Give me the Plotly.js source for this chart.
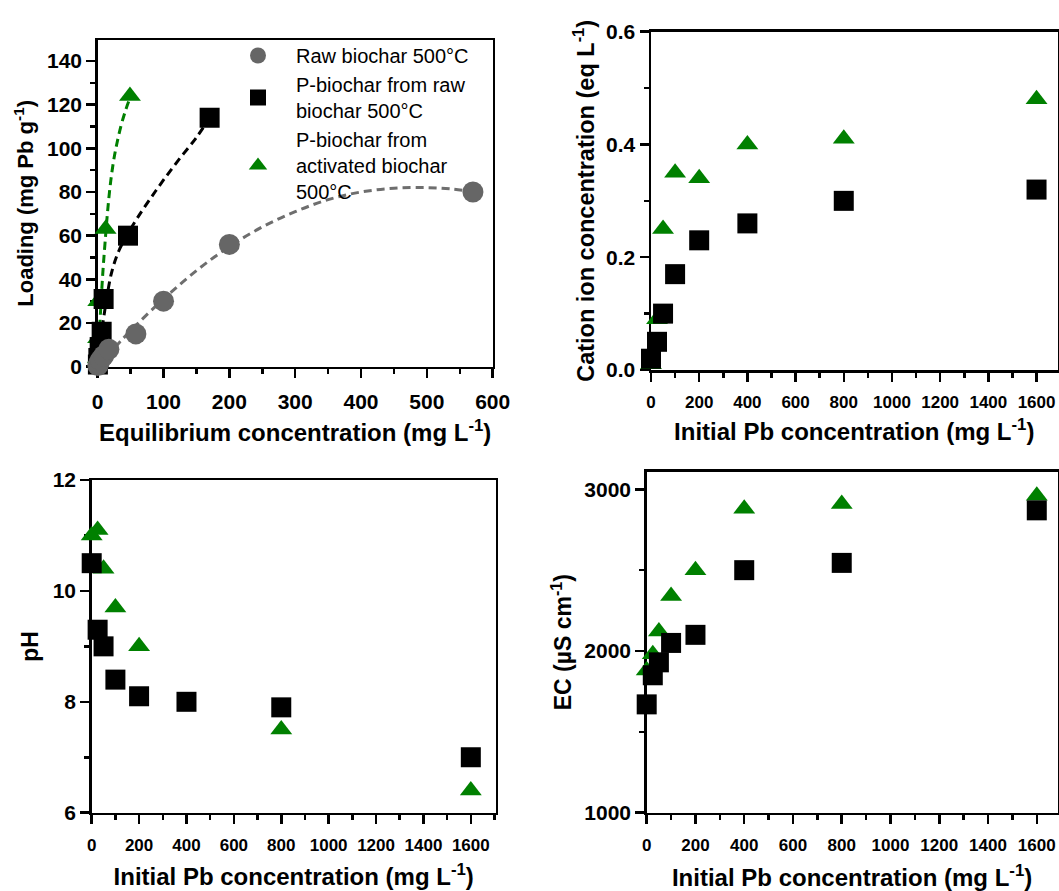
<!DOCTYPE html>
<html>
<head>
<meta charset="utf-8">
<script src="https://cdn.plot.ly/plotly-3.0.1.min.js"></script>
<style>html,body{margin:0;padding:0;background:#fff;}#chart{width:1059px;height:891px;}</style>
</head>
<body>
<div id="chart"></div>
<script>
// ---------- Panel A: loading vs equilibrium concentration ----------
const rawEqConc      = [0.3, 1.5, 4, 9, 17, 58, 100, 200, 570];
const rawLoading     = [0.5, 1.5, 3, 5, 8, 15, 30, 56, 80];
const pRawEqConc     = [0.3, 1, 3, 6, 9, 46, 170];
const pRawLoading    = [1, 4, 9, 16, 31, 60, 114];
const pActEqConc     = [0.2, 0.5, 0.8, 12, 49];
const pActLoading    = [4, 13, 30, 63, 124];
// fitted (dashed) curves
const rawFitX  = [0, 25, 50, 100, 150, 200, 250, 300, 350, 400, 450, 500, 540, 570];
const rawFitY  = [0, 8.5, 16.5, 31, 44, 55, 64, 71, 76.5, 80, 81.7, 82, 81.3, 80];
const pRawFitX = [0, 3, 7, 13, 21, 32, 46, 60, 80, 100, 125, 150, 170];
const pRawFitY = [0, 8, 18, 30, 43, 53, 61, 68, 77, 85.5, 95.5, 105, 114];
const pActFitX = [0, 1, 2.5, 5, 8, 12, 15, 19, 24, 29, 36, 43, 49];
const pActFitY = [0, 6, 15, 29, 44, 60, 71, 83, 94, 102, 111, 118, 123];

// ---------- Panels B-D: vs initial Pb concentration ----------
const initialPb     = [0, 25, 50, 100, 200, 400, 800, 1600];
const cationPRaw    = [0.02, 0.05, 0.10, 0.17, 0.23, 0.26, 0.30, 0.32];
const cationPAct    = [0.01, 0.09, 0.25, 0.35, 0.34, 0.40, 0.41, 0.48];
const phPRaw        = [10.5, 9.3, 9.0, 8.4, 8.1, 8.0, 7.9, 7.0];
const phActPb       = [0, 25, 50, 100, 200, 800, 1600];
const phPAct        = [11.0, 11.1, 10.4, 9.7, 9.0, 7.5, 6.4];
const ecPRaw        = [1670, 1850, 1930, 2050, 2100, 2500, 2545, 2870];
const ecPAct        = [1880, 1980, 2120, 2340, 2500, 2880, 2910, 2960];

const seriesNames = ['Raw biochar 500°C', 'P-biochar from raw<br>biochar 500°C', 'P-biochar from<br>activated biochar<br>500°C'];

const FONT = 'Liberation Sans, Arial, Helvetica, sans-serif';
const GREY = '#666666', BLACK = '#000000', GREEN = '#008000';
const W = 1059, H = 891;

function px2x(a, b) { return [a / W, b / W]; }
function px2y(top, bottom) { return [1 - bottom / H, 1 - top / H]; }

function axis(o) {
  const base = {
    showline: true, linewidth: 2.5, linecolor: '#000', mirror: true,
    ticks: 'outside', ticklen: 9, tickwidth: 2.5, tickcolor: '#000',
    showgrid: false, zeroline: false, layer: 'below traces', fixedrange: true,
    tickfont: {family: FONT, size: o.tickSize || 17, color: '#000', weight: 'bold'},
    title: {text: o.title, font: {family: FONT, size: o.titleSize || 24, color: '#000', weight: 'bold'}, standoff: o.standoff},
    minor: {dtick: o.minor, ticks: 'outside', ticklen: 5, tickwidth: 2.5, tickcolor: '#000'},
    tickmode: 'linear', tick0: o.tick0, dtick: o.dtick, range: o.range, domain: o.domain, anchor: o.anchor
  };
  if (o.fmt) base.tickformat = o.fmt;
  if (o.lstand !== undefined) base.ticklabelstandoff = o.lstand;
  return base;
}

const dashLine = (x, y, color, xa, ya) => ({
  x, y, xaxis: xa, yaxis: ya, mode: 'lines', type: 'scatter', showlegend: false, hoverinfo: 'skip',
  line: {color, width: 3, dash: '8px,5px', shape: 'spline'}, cliponaxis: false
});
const pts = (x, y, sym, color, size, xa, ya, name, show, rank) => ({
  x, y, xaxis: xa, yaxis: ya, mode: 'markers', type: 'scatter', name, showlegend: show, legendrank: rank,
  marker: {symbol: sym, color, size, line: {width: 0}}, cliponaxis: false
});

const traces = [
  dashLine(pActFitX, pActFitY, GREEN, 'x', 'y'),
  dashLine(pRawFitX, pRawFitY, BLACK, 'x', 'y'),
  dashLine(rawFitX, rawFitY, '#6e6e6e', 'x', 'y'),
  pts(pActEqConc, pActLoading, 'triangle-up', GREEN, 19, 'x', 'y', seriesNames[2], true, 3),
  pts(pRawEqConc, pRawLoading, 'square', BLACK, 20, 'x', 'y', seriesNames[1], true, 2),
  pts(rawEqConc, rawLoading, 'circle', GREY, 21, 'x', 'y', seriesNames[0], true, 1),

  pts(initialPb, cationPAct, 'triangle-up', GREEN, 19, 'x2', 'y2', seriesNames[2], false),
  pts(initialPb, cationPRaw, 'square', BLACK, 20, 'x2', 'y2', seriesNames[1], false),

  pts(phActPb, phPAct, 'triangle-up', GREEN, 19, 'x3', 'y3', seriesNames[2], false),
  pts(initialPb, phPRaw, 'square', BLACK, 20, 'x3', 'y3', seriesNames[1], false),

  pts(initialPb, ecPAct, 'triangle-up', GREEN, 19, 'x4', 'y4', seriesNames[2], false),
  pts(initialPb, ecPRaw, 'square', BLACK, 20, 'x4', 'y4', seriesNames[1], false)
];

const xTitleInit = 'Initial Pb concentration (mg L<sup>-1</sup>)';

const layout = {
  width: W, height: H, margin: {l: 0, r: 0, t: 0, b: 0},
  paper_bgcolor: '#fff', plot_bgcolor: 'rgba(0,0,0,0)',
  font: {family: FONT, color: '#000'},
  showlegend: true,
  legend: {
    x: 220 / W, y: 1 - 36 / H, xanchor: 'left', yanchor: 'top',
    bgcolor: 'rgba(0,0,0,0)', borderwidth: 0,
    font: {family: FONT, size: 20, color: '#000'},
    valign: 'middle', tracegroupgap: 0, itemwidth: 66
  },
  xaxis: axis({title: 'Equilibrium concentration (mg L<sup>-1</sup>)', range: [0, 600], tick0: 0, dtick: 100, minor: 50,
    domain: px2x(97.7, 492.7), anchor: 'y', tickSize: 21, standoff: 12, lstand: 6}),
  yaxis: axis({title: 'Loading (mg Pb g<sup>-1</sup>)', range: [0, 149.6], tick0: 0, dtick: 20, minor: 10,
    domain: px2y(40, 366.7), anchor: 'x', tickSize: 21, standoff: 7, titleSize: 22}),

  xaxis2: axis({title: xTitleInit, range: [0, 1687], tick0: 0, dtick: 200, minor: 100,
    domain: px2x(651, 1057.5), anchor: 'y2', standoff: 13, lstand: 6}),
  yaxis2: axis({title: 'Cation ion concentration (eq L<sup>-1</sup>)', range: [0, 0.6], tick0: 0, dtick: 0.2, minor: 0.1,
    domain: px2y(31.7, 370), anchor: 'x2', tickSize: 21, standoff: 5, fmt: '.1f', titleSize: 23.5}),

  xaxis3: axis({title: xTitleInit, range: [0, 1705], tick0: 0, dtick: 200, minor: 100,
    domain: px2x(91.7, 495.7), anchor: 'y3', standoff: 15, lstand: 6}),
  yaxis3: axis({title: 'pH', range: [6, 12], tick0: 6, dtick: 2, minor: 1,
    domain: px2y(480, 812.7), anchor: 'x3', tickSize: 21, standoff: 8, titleSize: 23}),

  xaxis4: axis({title: xTitleInit, range: [0, 1685], tick0: 0, dtick: 200, minor: 100,
    domain: px2x(646.7, 1057.5), anchor: 'y4', standoff: 20, lstand: 6}),
  yaxis4: axis({title: 'EC (µS cm<sup>-1</sup>)', range: [1000, 3109], tick0: 1000, dtick: 1000, minor: 500,
    domain: px2y(471.7, 812.7), anchor: 'x4', tickSize: 21, standoff: 6, titleSize: 23})
};

Plotly.newPlot('chart', traces, layout, {staticPlot: true, displayModeBar: false});
</script>
</body>
</html>
